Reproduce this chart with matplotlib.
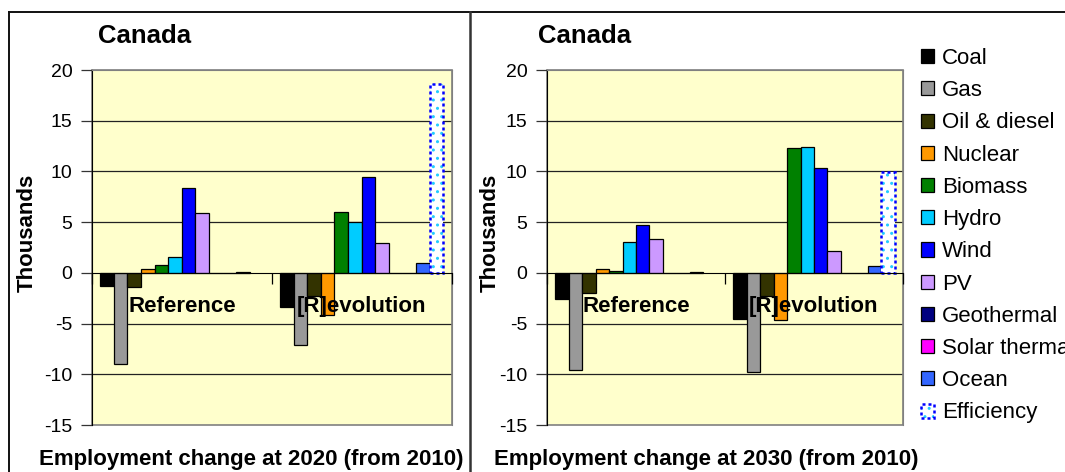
import numpy as np
import matplotlib
matplotlib.use("Agg")
import matplotlib.pyplot as plt
from matplotlib.patches import Patch, Rectangle
from matplotlib.lines import Line2D

plt.rcParams['font.family'] = ['Liberation Sans', 'DejaVu Sans']

# data (thousands of jobs, change from 2010)
scenarios = ['Reference', '[R]evolution']
sources = ['Coal', 'Gas', 'Oil & diesel', 'Nuclear', 'Biomass', 'Hydro', 'Wind',
           'PV', 'Geothermal', 'Solar thermal', 'Ocean', 'Efficiency']
colors = ['#000000', '#999999', '#333300', '#FF9900', '#008000', '#00CCFF',
          '#0000FF', '#CC99FF', '#000080', '#FF00FF', '#3366FF', '#FFFFFF']

# rows = sources, columns = [Reference, [R]evolution]
jobs_2020 = [[-1.3, -3.4],
             [-9.0, -7.1],
             [-1.4, -2.25],
             [0.37, -4.2],
             [0.8, 6.0],
             [1.6, 5.0],
             [8.4, 9.5],
             [5.9, 2.9],
             [0.0, 0.0],
             [0.0, 0.0],
             [0.1, 0.95],
             [0.0, 18.6]]
jobs_2030 = [[-2.6, -4.5],
             [-9.6, -9.8],
             [-2.0, -2.25],
             [0.4, -4.6],
             [0.15, 12.3],
             [3.0, 12.4],
             [4.7, 10.3],
             [3.3, 2.2],
             [0.0, 0.0],
             [0.0, 0.0],
             [0.13, 0.66],
             [0.0, 9.9]]

yticks = [-15, -10, -5, 0, 5, 10, 15, 20]
years = ['2020', '2030']

W, H = 1065, 472
fig = plt.figure(figsize=(W / 100, H / 100), dpi=100)

ax_left = fig.add_axes([92 / W, 1 - 425 / H, 359.5 / W, 355 / H])
ax_right = fig.add_axes([547 / W, 1 - 425 / H, 356 / W, 355 / H])

n = len(sources)
bw = 1 / (n + 1.2)
x = np.arange(len(scenarios))
dots = (0, (1.2, 1.2))
dot_fill = '#22CCFF'

handles = []
for ax, data, year in [(ax_left, jobs_2020, years[0]), (ax_right, jobs_2030, years[1])]:
    ax.set_facecolor('#FFFFCC')
    ax.set_xlim(-0.5, 1.5)
    ax.set_ylim(-15, 20)

    # grid lines behind bars
    for yv in yticks[1:-1]:
        if yv != 0:
            ax.axhline(yv, color='#222222', lw=0.9, zorder=0.8)

    handles = []
    for i, src in enumerate(sources):
        pos = x + (i - (n - 1) / 2) * bw
        if src == 'Efficiency':
            ax.bar(pos, data[i], bw, color='white', edgecolor=dot_fill,
                   hatch='..', lw=0, zorder=2)
            edge_c = ['#0000FF' if v != 0 else 'none' for v in data[i]]
            ax.bar(pos, data[i], bw, color='none', edgecolor=edge_c,
                   ls=dots, lw=1.8, zorder=2.1)
            handles.append((Patch(facecolor='white', edgecolor=dot_fill, hatch='..', lw=0),
                            Patch(facecolor='none', edgecolor='#0000FF', ls=dots, lw=1.8)))
        else:
            ax.bar(pos, data[i], bw, color=colors[i], edgecolor='black', lw=0.9, zorder=2)
            handles.append(Patch(facecolor=colors[i], edgecolor='black', lw=0.9))

    # spines: x axis at zero, gray frame around plot area
    ax.spines['bottom'].set_position(('data', 0))
    ax.spines['bottom'].set_color('black')
    ax.spines['left'].set_color('black')
    for s in ['top', 'right']:
        ax.spines[s].set_color('#808080')
    ax.add_patch(Rectangle((0, 0), 1, 1, transform=ax.transAxes, fill=False,
                           edgecolor='#808080', lw=1.2, zorder=0.9, clip_on=False))

    ax.set_yticks(yticks)
    ax.set_yticklabels([str(v) for v in yticks], fontsize=14)
    ax.tick_params(axis='y', length=8, width=0.9, color='#333333', pad=6)

    ax.set_xticks([-0.5, 0.5, 1.5])
    ax.set_xticklabels([])
    ax.tick_params(axis='x', which='major', length=8, width=0.9, color='black')
    ax.set_xticks(x, scenarios, minor=True)
    ax.tick_params(axis='x', which='minor', length=0, pad=17)
    for lab in ax.get_xticklabels(minor=True):
        lab.set_fontsize(16)
        lab.set_fontweight('bold')
    ax.xaxis.set_zorder(3)

# titles and axis labels
for cx, ylx in [(145, 27), (585, 490)]:
    fig.text(cx / W, 1 - 36 / H, 'Canada', fontsize=18.5, fontweight='bold',
             ha='center', va='center')
    fig.text(ylx / W, 1 - 233 / H, 'Thousands', fontsize=16, fontweight='bold',
             rotation=90, ha='center', va='center')
for cx, year in [(251, years[0]), (706, years[1])]:
    fig.text(cx / W, 1 - 460 / H, 'Employment change at %s (from 2010)' % year,
             fontsize=16, fontweight='bold', ha='center', va='center')

# outer frame lines
fig.add_artist(Line2D([9 / W, 1], [1 - 12 / H, 1 - 12 / H], color='#111111', lw=1.4))
fig.add_artist(Line2D([9 / W, 9 / W], [0, 1 - 12 / H], color='#111111', lw=1.4))
fig.add_artist(Line2D([470 / W, 470 / W], [0, 1 - 12 / H], color='#333333', lw=1.8))

fig.legend(handles, sources, loc='upper left', bbox_to_anchor=(921 / W, 1 - 48 / H),
           frameon=False, fontsize=16, borderpad=0, borderaxespad=0,
           handlelength=0.6, handleheight=0.6, handletextpad=0.35, labelspacing=0.505)

fig.savefig('out.png', dpi=100)
